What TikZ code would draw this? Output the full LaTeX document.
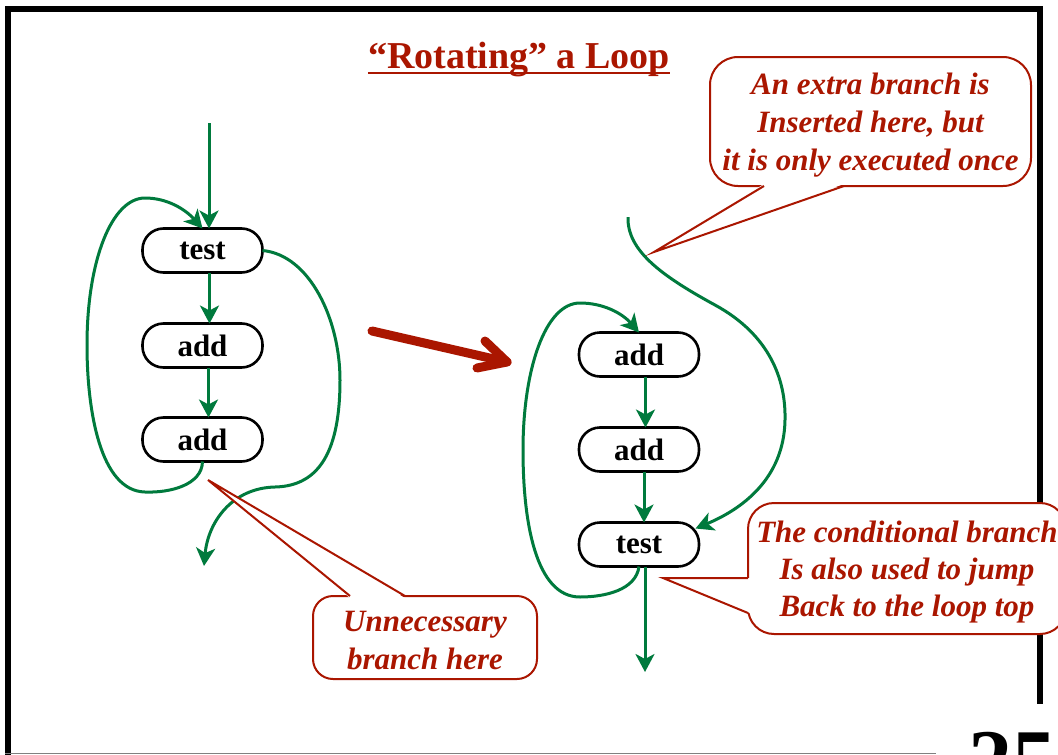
\documentclass[tikz,border=0pt]{standalone}
\usepackage{fontspec}
\setmainfont{Liberation Serif}
\usetikzlibrary{arrows.meta}
\definecolor{dred}{RGB}{170,22,0}
\definecolor{dgreen}{RGB}{0,122,61}
\begin{document}
\begin{tikzpicture}[x=1pt,y=-1pt,
  stepbox/.style={draw, line width=2.6pt, rounded corners=21pt, minimum width=120pt, minimum height=44pt, inner sep=0pt, outer sep=0pt, font=\bfseries\fontsize{31}{37}\selectfont},
  garrow/.style={draw=dgreen, line width=3pt, -{Stealth[length=18pt,width=19pt,inset=5pt]}},
  callout/.style={draw=dred, fill=white, line width=2pt, text=dred, align=center, inner sep=0pt, outer sep=0pt, font=\bfseries\itshape\fontsize{31}{38}\selectfont},
  tail/.style={draw=dred, line width=2pt, line join=miter},
  redarrow/.style={draw=dred, line width=9pt, line cap=round, line join=round},
]
\useasboundingbox (0,0) rectangle (1058,755);
\clip (0,0) rectangle (1058,755);
\fill[white] (0,0) rectangle (1058,755);

% frame
\draw[line width=6pt] (8,755) -- (8,9) -- (1040,9) -- (1040,704);
\draw[gray, line width=1.5pt] (5,753.5) -- (936,753.5);
\node[anchor=base west, inner sep=0pt, font=\bfseries\fontsize{88}{88}\selectfont] (pg) at (968,790) {25};

% title
\node[anchor=base, inner sep=0pt, text=dred, font=\bfseries\fontsize{38}{44}\selectfont] (title) at (519,68) {“Rotating” a Loop};
\draw[dred, line width=2.5pt] ([yshift=-5pt]title.base west) -- ([yshift=-5pt]title.base east);

% left loop nodes
\node[stepbox] (t1) at (202.5,250.5) {test};
\node[stepbox] (a1) at (202.5,345.5) {add};
\node[stepbox] (a2) at (202.5,439.5) {add};
% right loop nodes
\node[stepbox] (b1) at (639,354.5) {add};
\node[stepbox] (b2) at (639,449.5) {add};
\node[stepbox] (t2) at (639,544.5) {test};

% left connectors
\coordinate (in1) at (209,123);
\draw[garrow] (in1) -- (in1 |- t1.north);
\draw[garrow] ([xshift=7pt]t1.south) -- ([xshift=7pt]a1.north);
\draw[garrow] ([xshift=6pt]a1.south) -- ([xshift=6pt]a2.north);
\draw[garrow] (a2.south) .. controls (202,485) and (170,493) .. (145,492)
  .. controls (100,491) and (87,410) .. (87,345)
  .. controls (87,260) and (112,198) .. (145,198)
  .. controls (168,198) and (186,210) .. (t1.north);
\coordinate (exit1) at (204,566);
\draw[garrow] (t1.east) .. controls (310,255) and (340,320) .. (340,380)
  .. controls (340,450) and (320,486) .. (275,487)
  .. controls (232,488) and (208,522) .. (exit1);

% right connectors
\coordinate (in2) at (628,217);
\draw[garrow] (in2) .. controls (627,250) and (660,275) .. (715,305)
  .. controls (770,335) and (786,380) .. (785,420)
  .. controls (784,480) and (740,510) .. ([xshift=-3.5pt,yshift=-6pt]t2.north east);
\draw[garrow] ([xshift=6.5pt]b1.south) -- ([xshift=6.5pt]b2.north);
\draw[garrow] ([xshift=5pt]b2.south) -- ([xshift=5pt]t2.north);
\coordinate (out2) at (645,672);
\draw[garrow] ([xshift=6pt]t2.south) -- (out2);
\draw[garrow] (t2.south) .. controls (636,590) and (605,597) .. (580,597)
  .. controls (535,597) and (523,520) .. (523,450)
  .. controls (523,370) and (545,303) .. (580,303)
  .. controls (603,303) and (622,313) .. (b1.north);

% big red arrow
\coordinate (r0) at (372,331);
\coordinate (r1) at (507,362);
\coordinate (rw1) at (485,341);
\coordinate (rw2) at (477,368);
\draw[redarrow] (r0) -- (r1);
\draw[redarrow] (rw1) -- (r1) -- (rw2);

% callout 1
\node[callout, minimum width=321pt, minimum height=129pt, rounded corners=28pt] (c1) at (870.5,121.5)
  {\rule{0pt}{29pt}An extra branch is\\Inserted here, but\\it is only executed once};
\coordinate (tip1) at (654,252);
\fill[white] (tip1) -- ([xshift=54pt,yshift=2pt]c1.south west) -- ([xshift=134pt,yshift=2pt]c1.south west) -- cycle;
\draw[tail] ([xshift=54pt]c1.south west) -- (tip1) -- ([xshift=134pt]c1.south west);

% callout 2
\node[callout, minimum width=224pt, minimum height=83pt, rounded corners=20pt] (c2) at (425,637.5)
  {\rule{0pt}{26pt}Unnecessary\\branch here};
\coordinate (tip2) at (208,480);
\fill[white] (tip2) -- ([xshift=37pt,yshift=-2pt]c2.north west) -- ([xshift=92pt,yshift=-2pt]c2.north west) -- cycle;
\draw[tail] ([xshift=37pt]c2.north west) -- (tip2) -- ([xshift=92pt]c2.north west);

% callout 3
\node[callout, minimum width=318pt, minimum height=131pt, rounded corners=26pt, font=\bfseries\itshape\fontsize{31}{37}\selectfont] (c3) at (907,568.5)
  {\rule{0pt}{29pt}The conditional branch\\Is also used to jump\\Back to the loop top};
\coordinate (tip3) at (663,578);
\fill[white] (tip3) -- ([xshift=2pt,yshift=-75pt]c3.north west) -- ([xshift=2pt,yshift=-110pt]c3.north west) -- cycle;
\draw[tail] ([yshift=-75pt]c3.north west) -- (tip3) -- ([yshift=-110pt]c3.north west);
\end{tikzpicture}
\end{document}
